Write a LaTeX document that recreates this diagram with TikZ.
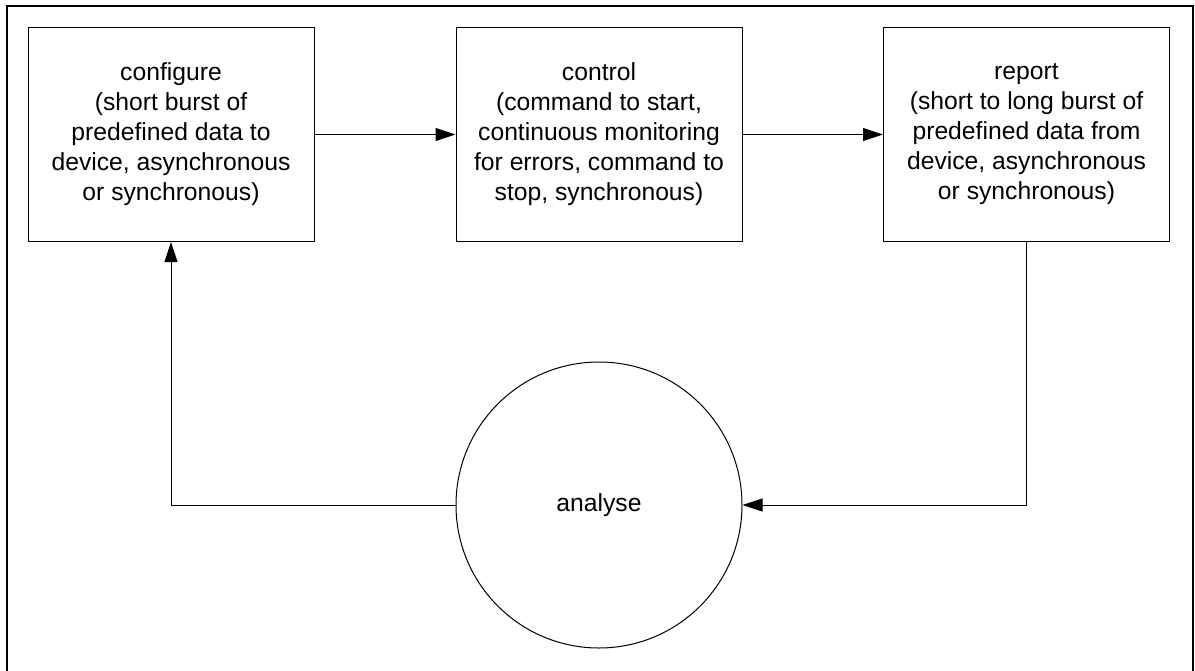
\documentclass[tikz,border=0pt]{standalone}
\usepackage{fontspec}
\setmainfont{Liberation Sans}
\usetikzlibrary{arrows.meta}
\begin{document}
\begin{tikzpicture}[x=1pt,y=-1pt,
  stagebox/.style={draw=black,line width=1pt,minimum width=286pt,minimum height=214pt,inner sep=0pt,align=center,font=\fontsize{24.7}{30}\selectfont},
  hubcircle/.style={draw=black,line width=1pt,circle,minimum size=286pt,inner sep=0pt,font=\fontsize{24.7}{30}\selectfont},
  flow/.style={draw=black,line width=1pt,-{Triangle[length=20pt,width=13pt]}}]
\useasboundingbox (0,0) rectangle (1195,670);
\clip (0,0) rectangle (1195,670);
\draw[line width=2pt] (7,6) rectangle (1192.7,690);
\node[stagebox] (cfg) at (171,134.5) {configure\\(short burst of\\predefined data to\\device, asynchronous\\or synchronous)};
\node[stagebox] (ctl) at (599,134.5) {control\\(command to start,\\continuous monitoring\\for errors, command to\\stop, synchronous)};
\node[stagebox] (rep) at (1026.5,134.5) {report\\(short to long burst of\\predefined data from\\device, asynchronous\\or synchronous)};
\node[hubcircle] (ana) at (599,505) {analyse};
\draw[flow] (cfg.east) -- (ctl.west);
\draw[flow] (ctl.east) -- (rep.west);
\draw[flow] (rep.south) |- (ana.east);
\draw[flow] (ana.west) -| (cfg.south);
\end{tikzpicture}
\end{document}
